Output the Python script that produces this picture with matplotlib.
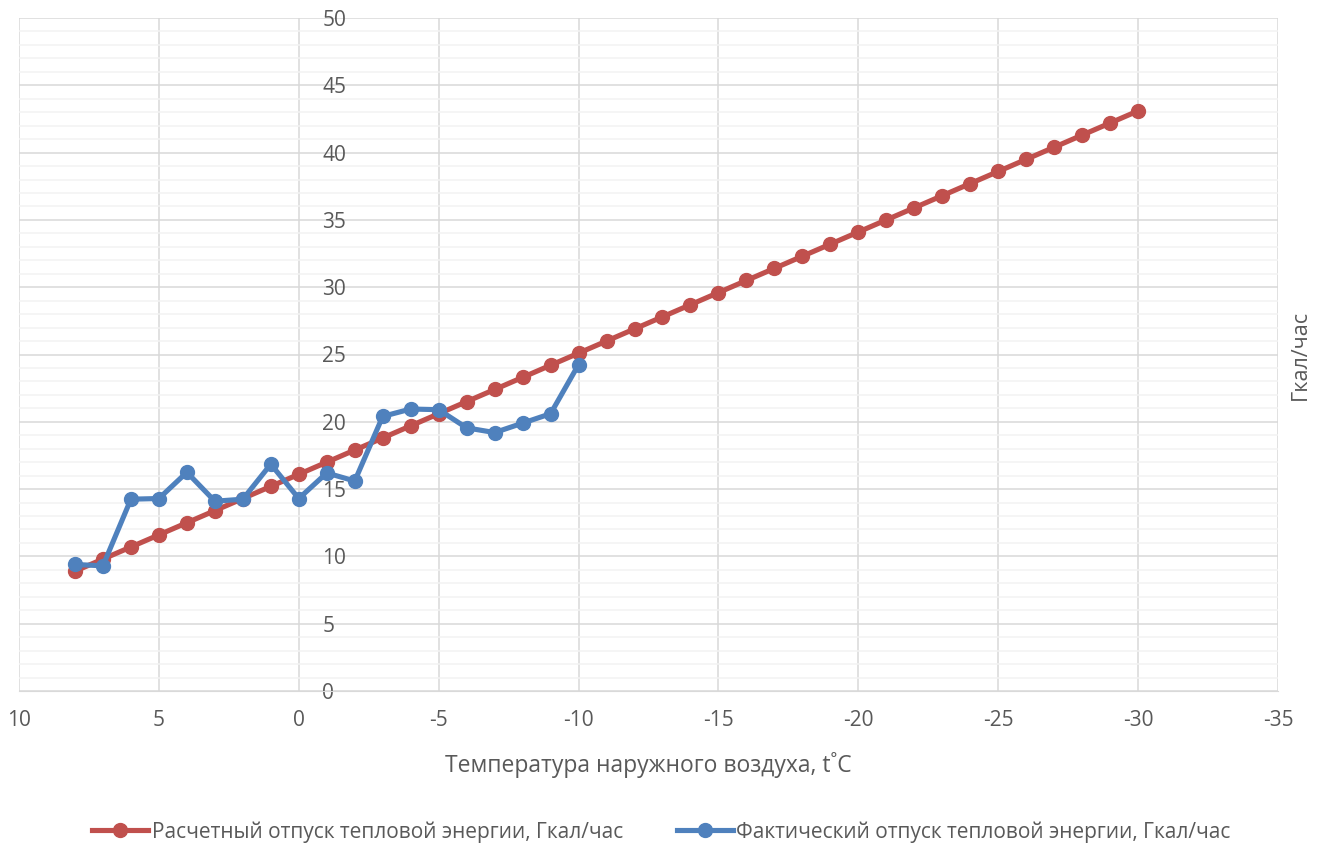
import matplotlib.pyplot as plt
from matplotlib.ticker import MultipleLocator

plt.rcParams['font.family'] = ['Open Sans', 'DejaVu Sans']
plt.rcParams['axes.unicode_minus'] = False

# outdoor temperature, deg C
temp_calc = [8, 7, 6, 5, 4, 3, 2, 1, 0, -1, -2, -3, -4, -5, -6, -7, -8, -9, -10,
             -11, -12, -13, -14, -15, -16, -17, -18, -19, -20,
             -21, -22, -23, -24, -25, -26, -27, -28, -29, -30]
heat_calc = [8.9, 9.8, 10.7, 11.6, 12.5, 13.4, 14.3, 15.2, 16.1, 17.0, 17.9, 18.8,
             19.7, 20.6, 21.5, 22.4, 23.3, 24.2, 25.1, 26.0, 26.9, 27.8, 28.7,
             29.6, 30.5, 31.4, 32.3, 33.2, 34.1, 35.0, 35.9, 36.8, 37.7, 38.6,
             39.5, 40.4, 41.3, 42.2, 43.1]

temp_fact = [8, 7, 6, 5, 4, 3, 2, 1, 0, -1, -2, -3, -4, -5, -6, -7, -8, -9, -10]
heat_fact = [9.4, 9.3, 14.25, 14.3, 16.25, 14.1, 14.25, 16.85, 14.3, 16.2, 15.6,
             20.4, 20.95, 20.9, 19.55, 19.2, 19.9, 20.6, 24.25]

label_calc = 'Расчетный отпуск тепловой энергии, Гкал/час'
label_fact = 'Фактический отпуск тепловой энергии, Гкал/час'

text_color = '#595959'

fig = plt.figure(figsize=(13.23, 8.48), dpi=100)
ax = fig.add_axes([19 / 1323, 1 - 691 / 848, (1278 - 19) / 1323, (691 - 18) / 848])

ax.plot(temp_calc, heat_calc, color='#C0504D', lw=3.7, marker='o', ms=10,
        label=label_calc, zorder=3)
ax.plot(temp_fact, heat_fact, color='#4F81BD', lw=3.7, marker='o', ms=10,
        label=label_fact, zorder=4)

ax.set_xlim(10, -35)
ax.set_ylim(0, 50)
ax.xaxis.set_major_locator(MultipleLocator(5))
ax.yaxis.set_major_locator(MultipleLocator(5))
ax.yaxis.set_minor_locator(MultipleLocator(1))

ax.grid(which='major', color='#D9D9D9', lw=1.1)
ax.grid(which='minor', axis='y', color='#F2F2F2', lw=1.1)
ax.set_axisbelow(True)

for s in ['top', 'left']:
    ax.spines[s].set_visible(False)
ax.spines['bottom'].set_color('#D9D9D9')
ax.spines['right'].set_position(('data', 0))
ax.spines['right'].set_visible(False)
ax.yaxis.tick_right()

ax.tick_params(axis='y', which='both', length=0, pad=17, labelsize=15,
               labelcolor=text_color)
ax.tick_params(axis='x', length=0, pad=14, labelsize=15, labelcolor=text_color)
for lab in ax.get_yticklabels():
    lab.set_horizontalalignment('left')

fig.text(648 / 1323, 1 - 765 / 848, 'Температура наружного воздуха, t˚C',
         ha='center', va='center', fontsize=16.5, color=text_color)
fig.text(1300 / 1323, 1 - 355 / 848, 'Гкал/час', rotation=90,
         ha='center', va='center', fontsize=15.5, color=text_color)

leg = fig.legend(loc='center', bbox_to_anchor=(0.5, 1 - 832 / 848), ncol=2,
                 frameon=False, fontsize=15, handlelength=2.7,
                 columnspacing=2.6, handletextpad=0.15)
for t in leg.get_texts():
    t.set_color(text_color)

fig.savefig('out.png', dpi=100)
